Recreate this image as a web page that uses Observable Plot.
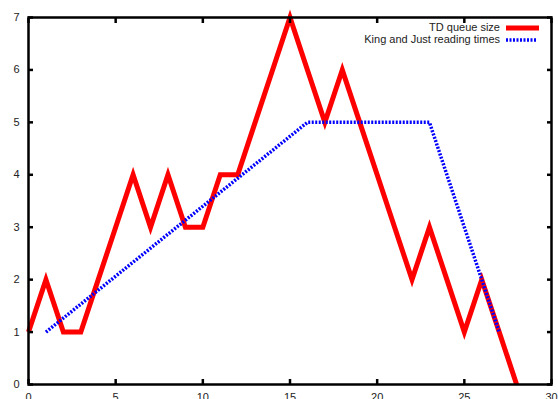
<!DOCTYPE html>
<html>
<head>
<meta charset="utf-8">
<script src="https://cdn.jsdelivr.net/npm/d3@7"></script>
<script src="https://cdn.jsdelivr.net/npm/@observablehq/plot@0.6"></script>
<style>
  html, body { margin: 0; padding: 0; background: #fff; }
  #wrap { position: relative; width: 558px; height: 399px; overflow: hidden; }
  #legend { position: absolute; right: 0; top: 0; font-family: "Liberation Sans", Arial, sans-serif; font-size: 11px; color: #222; }
  .row { position: absolute; white-space: nowrap; }
</style>
</head>
<body>
<div id="wrap"></div>
<script>
// TD queue size per word position
const tdX = [0,1,2,3,4,5,6,7,8,9,10,11,12,13,14,15,16,17,18,19,20,21,22,23,24,25,26,27,28];
const tdY = [1,2,1,1,2,3,4,3,4,3,3,4,4,5,6,7,6,5,6,5,4,3,2,3,2,1,2,1,0];
// King and Just reading times (scaled)
const kjX = [1,16,23,27];
const kjY = [1,5,5,1];
const xTicks = [0,5,10,15,20,25,30];
const yTicks = [0,1,2,3,4,5,6,7];
const seriesNames = ["TD queue size", "King and Just reading times"];

const td = tdX.map((x, i) => ({x, y: tdY[i]}));
const kj = kjX.map((x, i) => ({x, y: kjY[i]}));

const font = "Liberation Sans, Arial, sans-serif";
const blank = () => "";
const tickStyle = {tickSize: 5, tickFormat: blank, strokeWidth: 2.5, stroke: "#000", strokeLinecap: "butt", label: null};
const chart = Plot.plot({
  width: 558,
  height: 399,
  marginLeft: 28,
  marginRight: 7,
  marginTop: 17,
  marginBottom: 15,
  style: {fontFamily: font, fontSize: "11px", color: "#222", background: "#fff", overflow: "visible"},
  x: {domain: [0, 30], label: null},
  y: {domain: [0, 7], label: null},
  marks: [
    Plot.line(td, {x: "x", y: "y", stroke: "#ff0000", strokeWidth: 5, strokeLinecap: "butt", strokeLinejoin: "miter", strokeMiterlimit: 10}),
    Plot.line(kj, {x: "x", y: "y", stroke: "#0000ff", strokeWidth: 3.5, strokeDasharray: "2 1.5", strokeLinecap: "butt", strokeLinejoin: "miter"}),
    Plot.frame({stroke: "#000", strokeWidth: 2.5}),
    Plot.axisX({anchor: "bottom", ticks: xTicks, tickSize: 0, tickPadding: 9, tickFormat: d3.format("d"), label: null}),
    Plot.axisX({anchor: "bottom", ticks: xTicks, dy: -5, ...tickStyle}),
    Plot.axisX({anchor: "top", ticks: xTicks, dy: 5, ...tickStyle}),
    Plot.axisY({anchor: "left", ticks: yTicks, tickSize: 0, tickPadding: 9, tickFormat: d3.format("d"), label: null}),
    Plot.axisY({anchor: "left", ticks: yTicks, dx: 5, ...tickStyle}),
    Plot.axisY({anchor: "right", ticks: yTicks, dx: -5, ...tickStyle})
  ]
});
const wrap = document.getElementById("wrap");
wrap.appendChild(chart);

// legend overlay
const legend = document.createElement("div");
legend.id = "legend";
legend.style.width = "558px";
legend.style.height = "60px";
const styles = [
  {stroke: "#ff0000", width: 5, dash: null, top: 21},
  {stroke: "#0000ff", width: 3.5, dash: "2 1.5", top: 33}
];
seriesNames.forEach((name, i) => {
  const s = styles[i];
  const row = document.createElement("div");
  row.className = "row";
  row.style.top = s.top + "px";
  row.style.right = (558 - 500) + "px";
  row.textContent = name;
  legend.appendChild(row);
  const svgNS = "http://www.w3.org/2000/svg";
  const sv = document.createElementNS(svgNS, "svg");
  sv.setAttribute("width", 34);
  sv.setAttribute("height", 12);
  sv.style.position = "absolute";
  sv.style.left = "506px";
  sv.style.top = (s.top + 1) + "px";
  const ln = document.createElementNS(svgNS, "line");
  ln.setAttribute("x1", 0); ln.setAttribute("x2", i === 0 ? 33 : 30);
  ln.setAttribute("y1", 6); ln.setAttribute("y2", 6);
  ln.setAttribute("stroke", s.stroke);
  ln.setAttribute("stroke-width", s.width);
  if (s.dash) ln.setAttribute("stroke-dasharray", s.dash);
  sv.appendChild(ln);
  legend.appendChild(sv);
});
wrap.appendChild(legend);
</script>
</body>
</html>
